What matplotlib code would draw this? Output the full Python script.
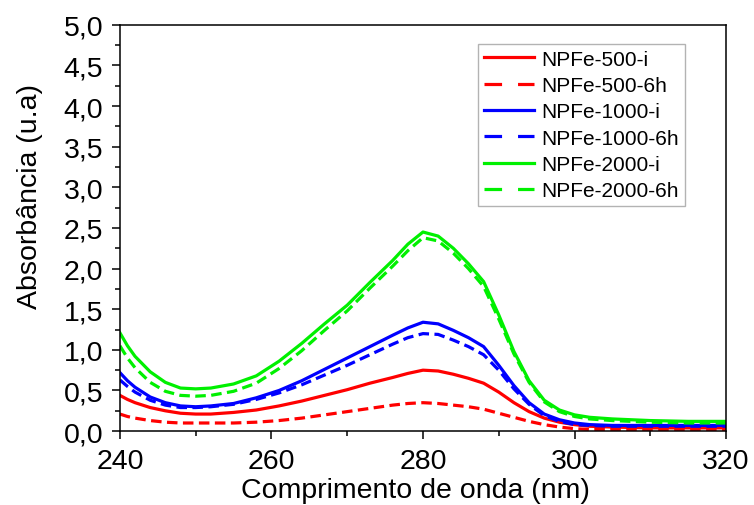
import matplotlib
matplotlib.use("Agg")
import matplotlib.pyplot as plt
from matplotlib.ticker import MultipleLocator, FuncFormatter

# comprimento de onda (nm)
wl = [240, 241, 242, 244, 246, 248, 250, 252, 255, 258, 261, 264, 267, 270, 273, 276, 278,
      280, 282, 284, 286, 288, 290, 292, 294, 296, 298, 300, 302, 305, 310, 315, 320]

npfe500_i = [0.44, 0.39, 0.35, 0.29, 0.25, 0.22, 0.21, 0.21, 0.23, 0.26, 0.31, 0.37, 0.44, 0.51, 0.59, 0.66, 0.71,
             0.75, 0.74, 0.70, 0.65, 0.59, 0.48, 0.35, 0.24, 0.16, 0.11, 0.08, 0.06, 0.05, 0.04, 0.04, 0.04]
npfe500_6h = [0.21, 0.18, 0.16, 0.13, 0.11, 0.10, 0.10, 0.10, 0.10, 0.11, 0.13, 0.16, 0.20, 0.24, 0.28, 0.32, 0.34,
              0.35, 0.34, 0.32, 0.30, 0.27, 0.22, 0.17, 0.12, 0.08, 0.05, 0.03, 0.02, 0.02, 0.01, 0.01, 0.01]
npfe1000_i = [0.72, 0.62, 0.54, 0.42, 0.35, 0.31, 0.30, 0.31, 0.34, 0.41, 0.50, 0.62, 0.76, 0.90, 1.04, 1.18, 1.27,
              1.34, 1.32, 1.24, 1.15, 1.04, 0.81, 0.56, 0.35, 0.21, 0.14, 0.10, 0.08, 0.07, 0.07, 0.07, 0.07]
npfe1000_6h = [0.63, 0.55, 0.48, 0.38, 0.32, 0.29, 0.29, 0.30, 0.33, 0.39, 0.47, 0.57, 0.69, 0.81, 0.94, 1.07, 1.15,
               1.20, 1.19, 1.12, 1.04, 0.94, 0.75, 0.52, 0.33, 0.19, 0.12, 0.08, 0.07, 0.06, 0.06, 0.06, 0.06]
npfe2000_i = [1.21, 1.05, 0.92, 0.73, 0.60, 0.53, 0.52, 0.53, 0.58, 0.68, 0.86, 1.08, 1.32, 1.55, 1.83, 2.10, 2.30,
              2.45, 2.40, 2.25, 2.06, 1.84, 1.43, 0.98, 0.62, 0.38, 0.26, 0.20, 0.17, 0.15, 0.13, 0.12, 0.12]
npfe2000_6h = [1.05, 0.90, 0.78, 0.60, 0.49, 0.44, 0.43, 0.44, 0.49, 0.59, 0.77, 0.99, 1.24, 1.48, 1.76, 2.03, 2.22,
               2.38, 2.34, 2.19, 2.00, 1.78, 1.38, 0.95, 0.60, 0.36, 0.24, 0.18, 0.15, 0.13, 0.11, 0.10, 0.10]

labels = ["NPFe-500-i", "NPFe-500-6h", "NPFe-1000-i", "NPFe-1000-6h", "NPFe-2000-i", "NPFe-2000-6h"]
series = [npfe500_i, npfe500_6h, npfe1000_i, npfe1000_6h, npfe2000_i, npfe2000_6h]
colors = ["#ff0000", "#ff0000", "#0000ff", "#0000ff", "#00f000", "#00f000"]
dashed = (0, (3.3, 1.7))
styles = ["-", dashed, "-", dashed, "-", dashed]

plt.rcParams["font.family"] = ["Liberation Sans", "DejaVu Sans"]

fig = plt.figure(figsize=(7.54, 5.06), dpi=100)
ax = fig.add_axes([0.159, 0.146, 0.804, 0.803])

for y, lab, c, ls in zip(series, labels, colors, styles):
    ax.plot(wl, y, color=c, linestyle=ls, linewidth=2.3, label=lab)

ax.set_xlim(240, 320)
ax.set_ylim(0, 5)
ax.xaxis.set_major_locator(MultipleLocator(20))
ax.xaxis.set_minor_locator(MultipleLocator(10))
ax.yaxis.set_major_locator(MultipleLocator(0.5))
ax.yaxis.set_minor_locator(MultipleLocator(0.25))
ax.yaxis.set_major_formatter(FuncFormatter(lambda v, p: f"{v:.1f}".replace(".", ",")))

ax.tick_params(which="major", direction="out", length=6, width=1.1, labelsize=20.5, pad=6)
ax.tick_params(which="minor", direction="out", length=3.5, width=1.1)
for s in ax.spines.values():
    s.set_linewidth(1.1)

ax.set_xlabel("Comprimento de onda (nm)", fontsize=20.5, labelpad=2, x=0.487)
ax.set_ylabel("Absorbância (u.a)", fontsize=20.5, labelpad=15, y=0.58)

leg = ax.legend(loc="upper right", bbox_to_anchor=(0.932, 0.953), borderaxespad=0,
                fontsize=15, frameon=True, fancybox=False, edgecolor="#a0a0a0",
                handlelength=2.4, handletextpad=0.35, labelspacing=0.35, borderpad=0.28)
leg.get_frame().set_linewidth(1.0)
# legenda com traço mais longo (2 traços por amostra)
for ln, ls in zip(leg.get_lines(), styles):
    if ls != "-":
        ln.set_linestyle((0, (5.5, 5.0)))

fig.savefig("out.png", dpi=100)
